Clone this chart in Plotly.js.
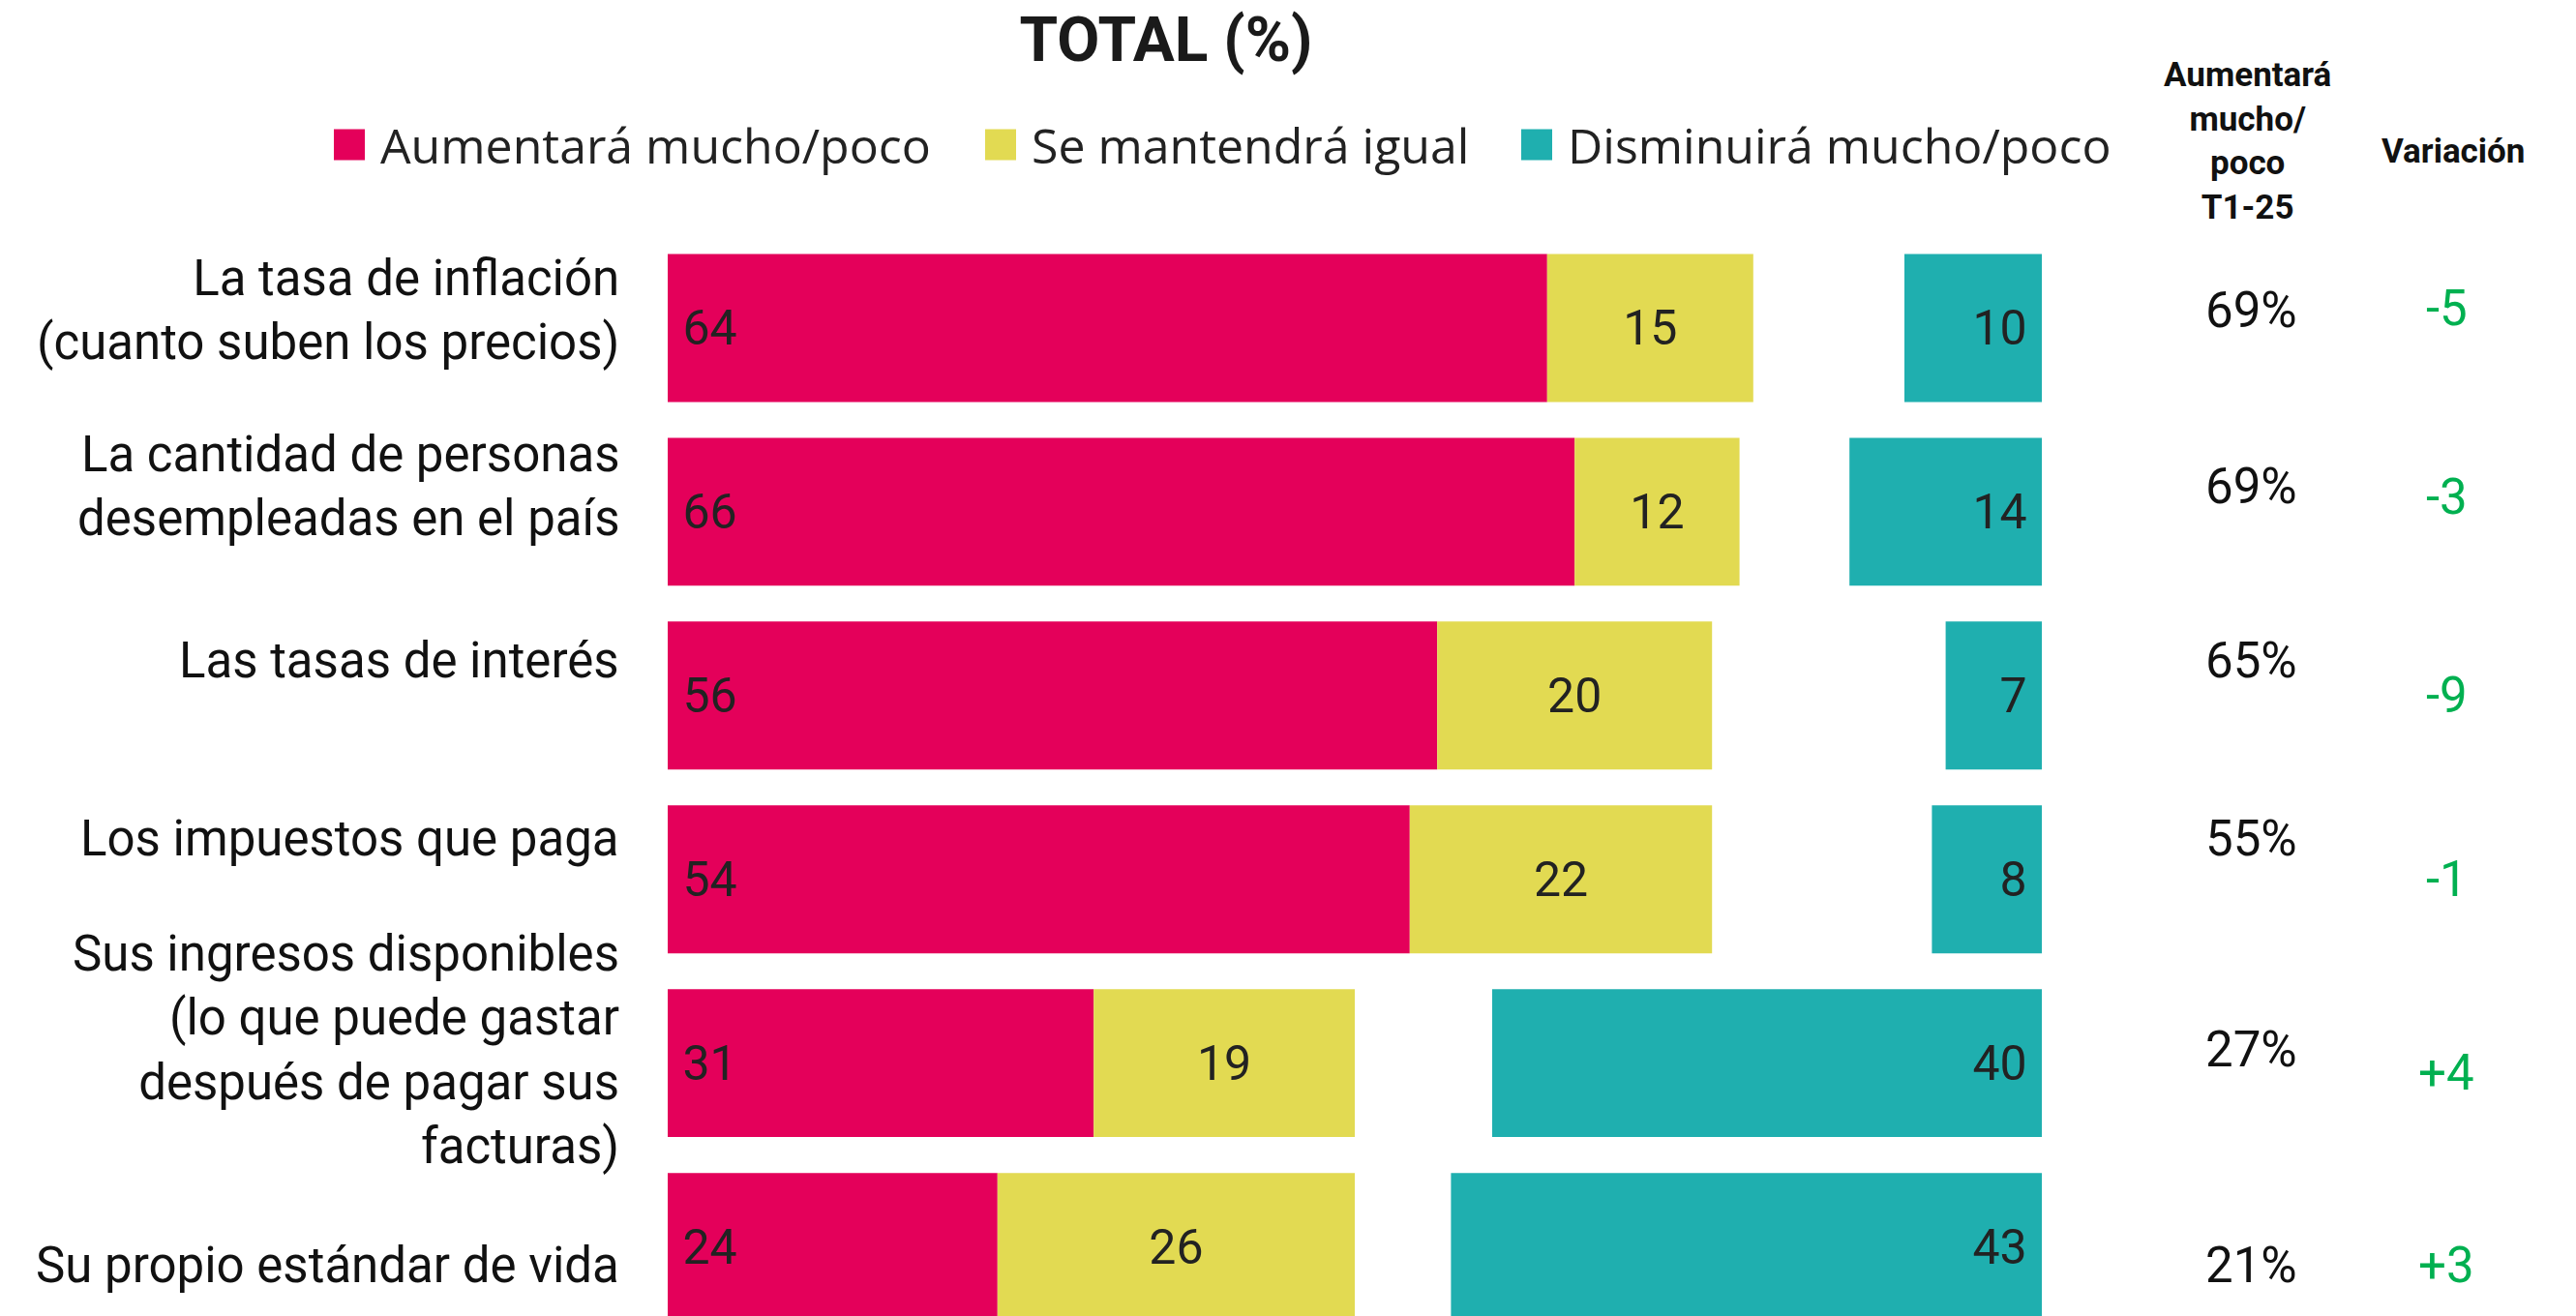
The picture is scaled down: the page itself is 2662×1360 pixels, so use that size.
<!DOCTYPE html>
<html><head><meta charset="utf-8">
<script src="https://cdn.plot.ly/plotly-3.0.1.min.js"></script>
<style>html,body{margin:0;padding:0;background:#fff;} #chart{width:2662px;height:1360px;}</style>
</head><body><div id="chart"></div>
<script>
// ---------------- DATA ----------------
const categories = [
  'La tasa de inflación<br>(cuanto suben los precios)',
  'La cantidad de personas<br>desempleadas en el país',
  'Las tasas de interés',
  'Los impuestos que paga',
  'Sus ingresos disponibles<br>(lo que puede gastar<br>después de pagar sus<br>facturas)',
  'Su propio estándar de vida'
];
const seriesNames = ['Aumentará mucho/poco', 'Se mantendrá igual', 'Disminuirá mucho/poco'];
const aumentara = [64, 66, 56, 54, 31, 24];
const igual = [15, 12, 20, 22, 19, 26];
const disminuira = [10, 14, 7, 8, 40, 43];
const aumentaraT1_25 = [69, 69, 65, 55, 27, 21];
const variacion = [-5, -3, -9, -1, 4, 3];
const chartTitle = 'TOTAL (%)';
const headerPrev = 'Aumentará<br>mucho/<br>poco<br>T1-25';
const headerVar = 'Variación';

// ---------------- LAYOUT HELPERS ----------------
const W = 2662, H = 1360;
const M = {l: 690, r: 552, t: 243.5, b: 0};
const plotW = W - M.l - M.r, plotH = H - M.t - M.b;
const px2x = px => (px - M.l) / plotW;
const py2y = py => 1 - (py - M.t) / plotH;
const colors = ['#E4005A', '#E2DA52', '#1FAFAF'];
const scaleMax = 100;
const labelShift = [-18, -26, -36, -42, -14, 19];   // px, down positive
const varShift = [-20, -15, 0, 0, 10, 19];
const numFont = 'Roboto, "Liberation Sans", sans-serif';

const barCommon = {
  type: 'bar', orientation: 'h', y: categories, width: 0.805,
  textposition: 'inside', constraintext: 'none', textangle: 0,
  textfont: {family: numFont, size: 50, color: '#222'},
  hoverinfo: 'skip', showlegend: false
};
const traces = [
  Object.assign({}, barCommon, {
    name: seriesNames[0], x: aumentara, base: aumentara.map(() => 0),
    marker: {color: colors[0]}, text: aumentara.map(String),
    texttemplate: '\u00a0%{text}', insidetextanchor: 'start'
  }),
  Object.assign({}, barCommon, {
    name: seriesNames[1], x: igual, base: aumentara,
    marker: {color: colors[1]}, text: igual.map(String),
    texttemplate: '%{text}', insidetextanchor: 'middle'
  }),
  Object.assign({}, barCommon, {
    name: seriesNames[2], x: disminuira, base: disminuira.map(v => scaleMax - v),
    marker: {color: colors[2]}, text: disminuira.map(String),
    texttemplate: '%{text}\u00a0', insidetextanchor: 'end'
  })
];

const annotations = [];
categories.forEach((c, i) => {
  annotations.push({
    text: c, xref: 'paper', yref: 'y', x: px2x(642), y: c, xanchor: 'right', yanchor: 'middle',
    align: 'right', showarrow: false, yshift: -labelShift[i],
    font: {family: 'Roboto, sans-serif', size: 51, color: '#111'}
  });
  annotations.push({
    text: aumentaraT1_25[i] + '%', xref: 'paper', yref: 'y', x: px2x(2326), y: c,
    xanchor: 'center', yanchor: 'middle', showarrow: false, yshift: -labelShift[i],
    font: {family: numFont, size: 51, color: '#111'}
  });
  const v = variacion[i];
  annotations.push({
    text: (v > 0 ? '+' : '') + v, xref: 'paper', yref: 'y', x: px2x(2528), y: c,
    xanchor: 'center', yanchor: 'middle', showarrow: false, yshift: -varShift[i],
    font: {family: numFont, size: 51, color: '#00B050'}
  });
});
// column headers
annotations.push({
  text: '<b>' + headerPrev + '</b>', xref: 'paper', yref: 'paper', x: px2x(2322), y: py2y(145),
  xanchor: 'center', yanchor: 'middle', align: 'center', showarrow: false,
  font: {family: 'Roboto, sans-serif', size: 35, color: '#111'}
});
annotations.push({
  text: '<b>' + headerVar + '</b>', xref: 'paper', yref: 'paper', x: px2x(2535), y: py2y(156),
  xanchor: 'center', yanchor: 'middle', showarrow: false,
  font: {family: 'Roboto, sans-serif', size: 35, color: '#111'}
});
// manual legend
const legendSwatchX = [345, 1018, 1572];
const shapes = [];
seriesNames.forEach((n, i) => {
  const x0 = legendSwatchX[i];
  shapes.push({
    type: 'rect', xref: 'paper', yref: 'paper',
    x0: px2x(x0), x1: px2x(x0 + 32), y0: py2y(165), y1: py2y(133),
    fillcolor: colors[i], line: {width: 0}
  });
  annotations.push({
    text: n, xref: 'paper', yref: 'paper', x: px2x(x0 + 46), y: py2y(149),
    xanchor: 'left', yanchor: 'middle', showarrow: false,
    font: {family: '"Open Sans", sans-serif', size: 50, color: '#222'}
  });
});

const layout = {
  width: W, height: H, margin: M, paper_bgcolor: '#fff', plot_bgcolor: '#fff',
  barmode: 'overlay', showlegend: false,
  title: {text: chartTitle, x: 1205 / W, xanchor: 'center', y: 1 - 41 / H, yanchor: 'middle',
          font: {family: 'Roboto, sans-serif', size: 64, weight: 700, color: '#1a1a1a'}},
  xaxis: {range: [0, scaleMax], visible: false, fixedrange: true},
  yaxis: {type: 'category', categoryarray: categories, range: [5.376, -0.5],
          showticklabels: false, showgrid: false, zeroline: false, showline: false, ticks: ''},
  annotations: annotations, shapes: shapes
};
Plotly.newPlot('chart', traces, layout, {staticPlot: true, displayModeBar: false});
</script></body></html>
